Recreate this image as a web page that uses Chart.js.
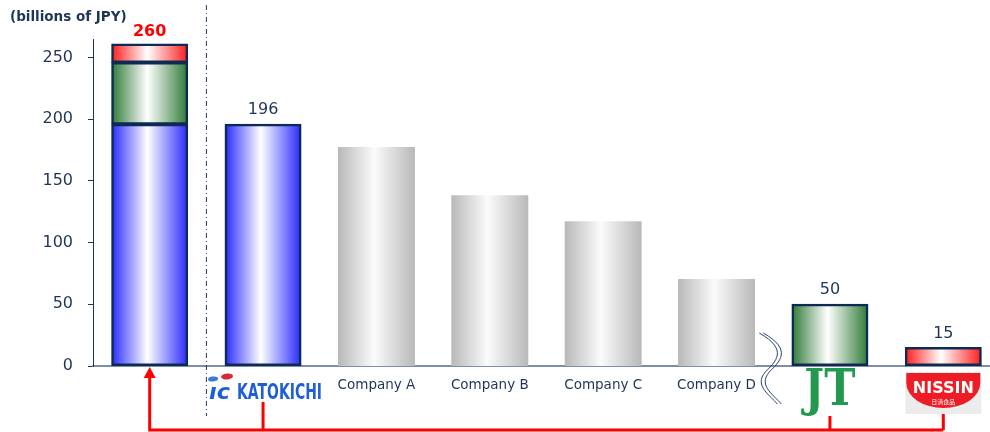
<!DOCTYPE html>
<html>
<head>
<meta charset="utf-8">
<title>Sales comparison</title>
<script src="https://cdn.jsdelivr.net/npm/chart.js@4"></script>
<style>
  html, body { margin: 0; padding: 0; background: #fff; overflow: hidden; }
  /* a bit wider than the window: the baseline runs off the right edge */
  #wrap { position: relative; width: 1000px; height: 432px; }
</style>
</head>
<body>
<div id="wrap"><canvas id="salesChart"></canvas></div>
<script>
// Categories (x axis)
const companies = ['Combined', 'Katokichi', 'Company A', 'Company B', 'Company C', 'Company D', 'JT', 'Nissin'];
// Text printed under each bar ('' where a logo is drawn instead)
const tickLabels = ['', '', 'Company A', 'Company B', 'Company C', 'Company D', '', ''];
// Sales, billions of JPY
const baseSales = [196, 196, 177, 138, 117, 70, 50, 15];
const jtStacked = [50, null, null, null, null, null, null, null];
const nissinStacked = [15, null, null, null, null, null, null, null];
// Value labels above the bars
const valueLabels = ['260', '196', '', '', '', '', '50', '15'];
// Y axis
const yTicks = [0, 50, 100, 150, 200, 250];
const yMax = 265;

// Fill style of each bar in the base series
const baseKinds = ['blue', 'blue', 'gray', 'gray', 'gray', 'gray', 'green', 'red'];

const palette = {
  navy: '#0c2a52',
  text: '#1f3558',
  edge: {
    blue: '#2a2aff',
    gray: '#b9b9b9',
    green: '#2f7a38',
    red: '#ff1c1c'
  },
  mid: {
    blue: '#ffffff',
    gray: '#fbfbfb',
    green: '#ffffff',
    red: '#ffffff'
  }
};

const barShare = 0.67;

// Horizontal "cylinder" gradient for one bar
function barFill(context, kind) {
  const chart = context.chart;
  const xScale = chart.scales.x;
  if (!chart.chartArea || !xScale) {
    return palette.edge[kind];
  }
  const cx = xScale.getPixelForValue(context.dataIndex);
  const half = xScale.width / companies.length * barShare / 2;
  const g = chart.ctx.createLinearGradient(cx - half, 0, cx + half, 0);
  g.addColorStop(0, palette.edge[kind]);
  g.addColorStop(0.47, palette.mid[kind]);
  g.addColorStop(1, palette.edge[kind]);
  return g;
}

function framed(context, kind) {
  return kind === 'gray' ? 0 : 2.5;
}

// Labels, separator, break mark, logos and red connectors
const decorations = {
  id: 'decorations',
  afterDatasetsDraw(chart) {
    const ctx = chart.ctx;
    const x = chart.scales.x;
    const area = chart.chartArea;
    const base = chart.getDatasetMeta(0).data;
    const top = chart.getDatasetMeta(2).data;

    ctx.save();

    // axis title
    ctx.fillStyle = palette.text;
    ctx.font = 'bold 13.5px "DejaVu Sans"';
    ctx.textAlign = 'left';
    ctx.textBaseline = 'middle';
    ctx.fillText('(billions of JPY)', 10, 17);

    // value labels
    ctx.textAlign = 'center';
    valueLabels.forEach((txt, i) => {
      if (!txt) return;
      const el = i === 0 ? top[0] : base[i];
      if (i === 0) {
        ctx.fillStyle = '#ff0000';
        ctx.font = 'bold 16px "DejaVu Sans"';
        ctx.fillText(txt, el.x, el.y - 12);
      } else {
        ctx.fillStyle = palette.text;
        ctx.font = '16px "DejaVu Sans"';
        ctx.fillText(txt, el.x, el.y - 14);
      }
    });

    // dash-dot separator between the combined bar and the others
    const sepX = (x.getPixelForValue(0) + x.getPixelForValue(1)) / 2;
    ctx.strokeStyle = palette.text;
    ctx.lineWidth = 1;
    ctx.setLineDash([5, 3, 1, 3]);
    ctx.beginPath();
    ctx.moveTo(sepX, 5);
    ctx.lineTo(sepX, 416);
    ctx.stroke();
    ctx.setLineDash([]);

    // axis break mark between Company D and JT
    const brX = (x.getPixelForValue(5) + x.getPixelForValue(6)) / 2 - 4;
    ctx.strokeStyle = '#27406a';
    ctx.lineWidth = 1;
    [-2, 2].forEach(off => {
      ctx.beginPath();
      ctx.moveTo(brX - 8 + off, 333);
      ctx.bezierCurveTo(brX + 22 + off, 350, brX + 8 + off, 362, brX - 2 + off, 372);
      ctx.bezierCurveTo(brX - 14 + off, 386, brX + 4 + off, 396, brX + 10 + off, 404);
      ctx.stroke();
    });

    // Katokichi logo
    const kx = x.getPixelForValue(1);
    ctx.fillStyle = '#1e5fd6';
    ctx.font = 'bold italic 22px "DejaVu Sans"';
    ctx.textAlign = 'left';
    ctx.textBaseline = 'alphabetic';
    ctx.save();
    const icon = 'ıc';
    ctx.translate(kx - 54, 399);
    ctx.scale(21 / ctx.measureText(icon).width, 1);
    ctx.fillText(icon, 0, 0);
    ctx.restore();
    ctx.fillStyle = '#3a78dc';
    ctx.beginPath();
    ctx.ellipse(kx - 50, 379, 5, 2.5, -0.1, 0, Math.PI * 2);
    ctx.fill();
    ctx.fillStyle = '#d8283a';
    ctx.beginPath();
    ctx.ellipse(kx - 36, 376.5, 6, 3, -0.1, 0, Math.PI * 2);
    ctx.fill();
    ctx.fillStyle = '#1e5fd6';
    ctx.font = 'bold 22px "DejaVu Sans"';
    ctx.save();
    const word = 'KATOKICHI';
    const w = ctx.measureText(word).width;
    ctx.translate(kx - 26, 399);
    ctx.scale(85 / w, 1);
    ctx.fillText(word, 0, 0);
    ctx.restore();

    // JT logo
    const jx = x.getPixelForValue(6);
    ctx.save();
    ctx.fillStyle = '#23994f';
    ctx.font = 'bold 40px "DejaVu Serif"';
    ctx.textAlign = 'center';
    ctx.translate(jx, 405);
    ctx.scale(1.05, 1.25);
    ctx.fillText('JT', 0, 0);
    ctx.restore();

    // Nissin logo
    const nx = x.getPixelForValue(7);
    ctx.fillStyle = '#ececec';
    ctx.fillRect(nx - 38, 372, 76, 42);
    ctx.fillStyle = '#ee1c25';
    ctx.beginPath();
    ctx.moveTo(nx - 37, 373);
    ctx.lineTo(nx + 37, 373);
    ctx.lineTo(nx + 37, 383);
    ctx.ellipse(nx, 383, 37, 25, 0, 0, Math.PI);
    ctx.closePath();
    ctx.fill();
    ctx.fillStyle = '#ffffff';
    ctx.font = 'bold 16px "DejaVu Sans"';
    ctx.textAlign = 'center';
    ctx.textBaseline = 'middle';
    ctx.fillText('NISSIN', nx, 389);
    ctx.font = '6px "Noto Sans CJK JP"';
    ctx.fillText('日清食品', nx, 402);

    // red connectors
    const yLine = 430;
    const ax = x.getPixelForValue(0);
    ctx.strokeStyle = '#ff0000';
    ctx.fillStyle = '#ff0000';
    ctx.lineWidth = 3;
    ctx.beginPath();
    ctx.moveTo(ax, area.bottom + 10);
    ctx.lineTo(ax, yLine);
    ctx.lineTo(x.getPixelForValue(7), yLine);
    ctx.moveTo(kx, 402);
    ctx.lineTo(kx, yLine);
    ctx.moveTo(jx, 416);
    ctx.lineTo(jx, yLine);
    ctx.moveTo(nx, 414);
    ctx.lineTo(nx, yLine);
    ctx.stroke();
    ctx.beginPath();
    ctx.moveTo(ax, area.bottom + 1);
    ctx.lineTo(ax - 6, area.bottom + 12);
    ctx.lineTo(ax + 6, area.bottom + 12);
    ctx.closePath();
    ctx.fill();

    ctx.restore();
  }
};

function initSalesChart() {
  const canvas = document.getElementById('salesChart');
  const ctx = canvas.getContext('2d');

  const common = {
    borderColor: palette.navy,
    borderSkipped: false,
    inflateAmount: 0.5,
    categoryPercentage: 1,
    barPercentage: barShare
  };

  new Chart(ctx, {
    type: 'bar',
    data: {
      labels: companies,
      datasets: [
        Object.assign({
          label: 'Sales',
          data: baseSales,
          backgroundColor: c => barFill(c, baseKinds[c.dataIndex]),
          borderWidth: c => framed(c, baseKinds[c.dataIndex])
        }, common),
        Object.assign({
          label: 'JT',
          data: jtStacked,
          backgroundColor: c => barFill(c, 'green'),
          borderWidth: 2.5
        }, common),
        Object.assign({
          label: 'Nissin',
          data: nissinStacked,
          backgroundColor: c => barFill(c, 'red'),
          borderWidth: 2.5
        }, common)
      ]
    },
    options: {
      responsive: true,
      maintainAspectRatio: false,
      animation: false,
      layout: { padding: { top: 39, left: 0, right: 0, bottom: 0 } },
      plugins: {
        legend: { display: false },
        tooltip: { enabled: false }
      },
      scales: {
        x: {
          stacked: true,
          afterFit: s => { s.height = 66; },
          grid: { display: false, drawTicks: false },
          border: { color: '#7d8ea6', width: 2 },
          ticks: {
            padding: 11,
            color: palette.text,
            font: { family: 'DejaVu Sans', size: 13.5 },
            maxRotation: 0,
            autoSkip: false,
            callback: (v, i) => tickLabels[i]
          }
        },
        y: {
          stacked: true,
          min: 0,
          max: yMax,
          afterFit: s => { s.width = 93; },
          afterBuildTicks: s => {
            s.ticks = yTicks.map(v => ({ value: v }));
          },
          grid: { drawOnChartArea: false, tickLength: 5, color: palette.text },
          border: { color: palette.text, width: 1 },
          ticks: {
            padding: 15,
            color: palette.text,
            font: { family: 'DejaVu Sans', size: 16 }
          }
        }
      }
    },
    plugins: [decorations]
  });
}

document.addEventListener('DOMContentLoaded', initSalesChart);
</script>
</body>
</html>
